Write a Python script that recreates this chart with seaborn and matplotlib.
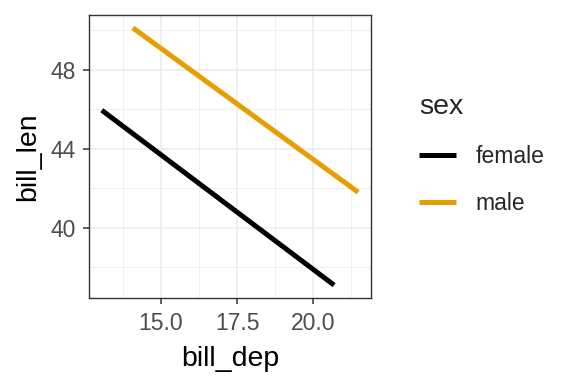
import matplotlib
matplotlib.use("Agg")
import matplotlib.pyplot as plt
import seaborn as sns
import pandas as pd
from matplotlib.ticker import FixedLocator

sex = ["female", "female", "male", "male"]
bill_dep = [13.06, 20.69, 14.08, 21.48]
bill_len = [45.94, 37.09, 50.11, 41.79]
palette = {"female": "#000000", "male": "#E69F00"}

df = pd.DataFrame({"sex": sex, "bill_dep": bill_dep, "bill_len": bill_len})

sns.set_theme(style="white")
plt.rcParams["font.family"] = ["Liberation Sans", "DejaVu Sans"]

fig = plt.figure(figsize=(5.76, 3.84), dpi=100)
ax = fig.add_axes([89 / 576, 1 - 298 / 384, (371 - 89) / 576, (298 - 15) / 384])

LW = 3.6
sns.lineplot(data=df, x="bill_dep", y="bill_len", hue="sex", palette=palette,
             linewidth=LW, ax=ax, legend=True, solid_capstyle="butt")

ax.set_xlim(12.64, 21.90)
ax.set_ylim(36.44, 50.76)
ax.xaxis.set_major_locator(FixedLocator([15.0, 17.5, 20.0]))
ax.yaxis.set_major_locator(FixedLocator([40, 44, 48]))
ax.xaxis.set_minor_locator(FixedLocator([13.75, 16.25, 18.75, 21.25]))
ax.yaxis.set_minor_locator(FixedLocator([38, 42, 46, 50]))
ax.set_xticklabels(["15.0", "17.5", "20.0"])
ax.set_yticklabels(["40", "44", "48"])
ax.grid(True, which="major", color="#EBEBEB", linewidth=1.1)
ax.grid(True, which="minor", color="#EBEBEB", linewidth=0.55)
ax.set_axisbelow(True)
ax.set_facecolor("white")
for s in ax.spines.values():
    s.set_color("#333333")
    s.set_linewidth(1.0)
ax.tick_params(axis="both", which="major", length=4.3, width=1.1, color="#333333",
               labelcolor="#4D4D4D", labelsize=16.5, bottom=True, left=True)
ax.tick_params(axis="x", which="major", pad=5.6)
ax.tick_params(axis="y", which="major", pad=5.5)
ax.tick_params(axis="both", which="minor", length=0)
ax.set_xlabel("bill_dep", fontsize=20.5, color="black", labelpad=8)
ax.set_ylabel("bill_len", fontsize=20.5, color="black", labelpad=6.5)

handles, labels = ax.get_legend_handles_labels()
ax.get_legend().remove()
leg = fig.legend(handles, labels, title="sex", frameon=False,
                 loc="upper left", bbox_to_anchor=(396 / 576, 1 - 71 / 384),
                 fontsize=16.5, title_fontsize=20.5, handlelength=1.6,
                 handletextpad=0.85, labelspacing=1.06, alignment="left",
                 borderpad=0.52)
for h in leg.get_lines():
    h.set_linewidth(LW)

fig.savefig("out.png", dpi=100, facecolor="white")
